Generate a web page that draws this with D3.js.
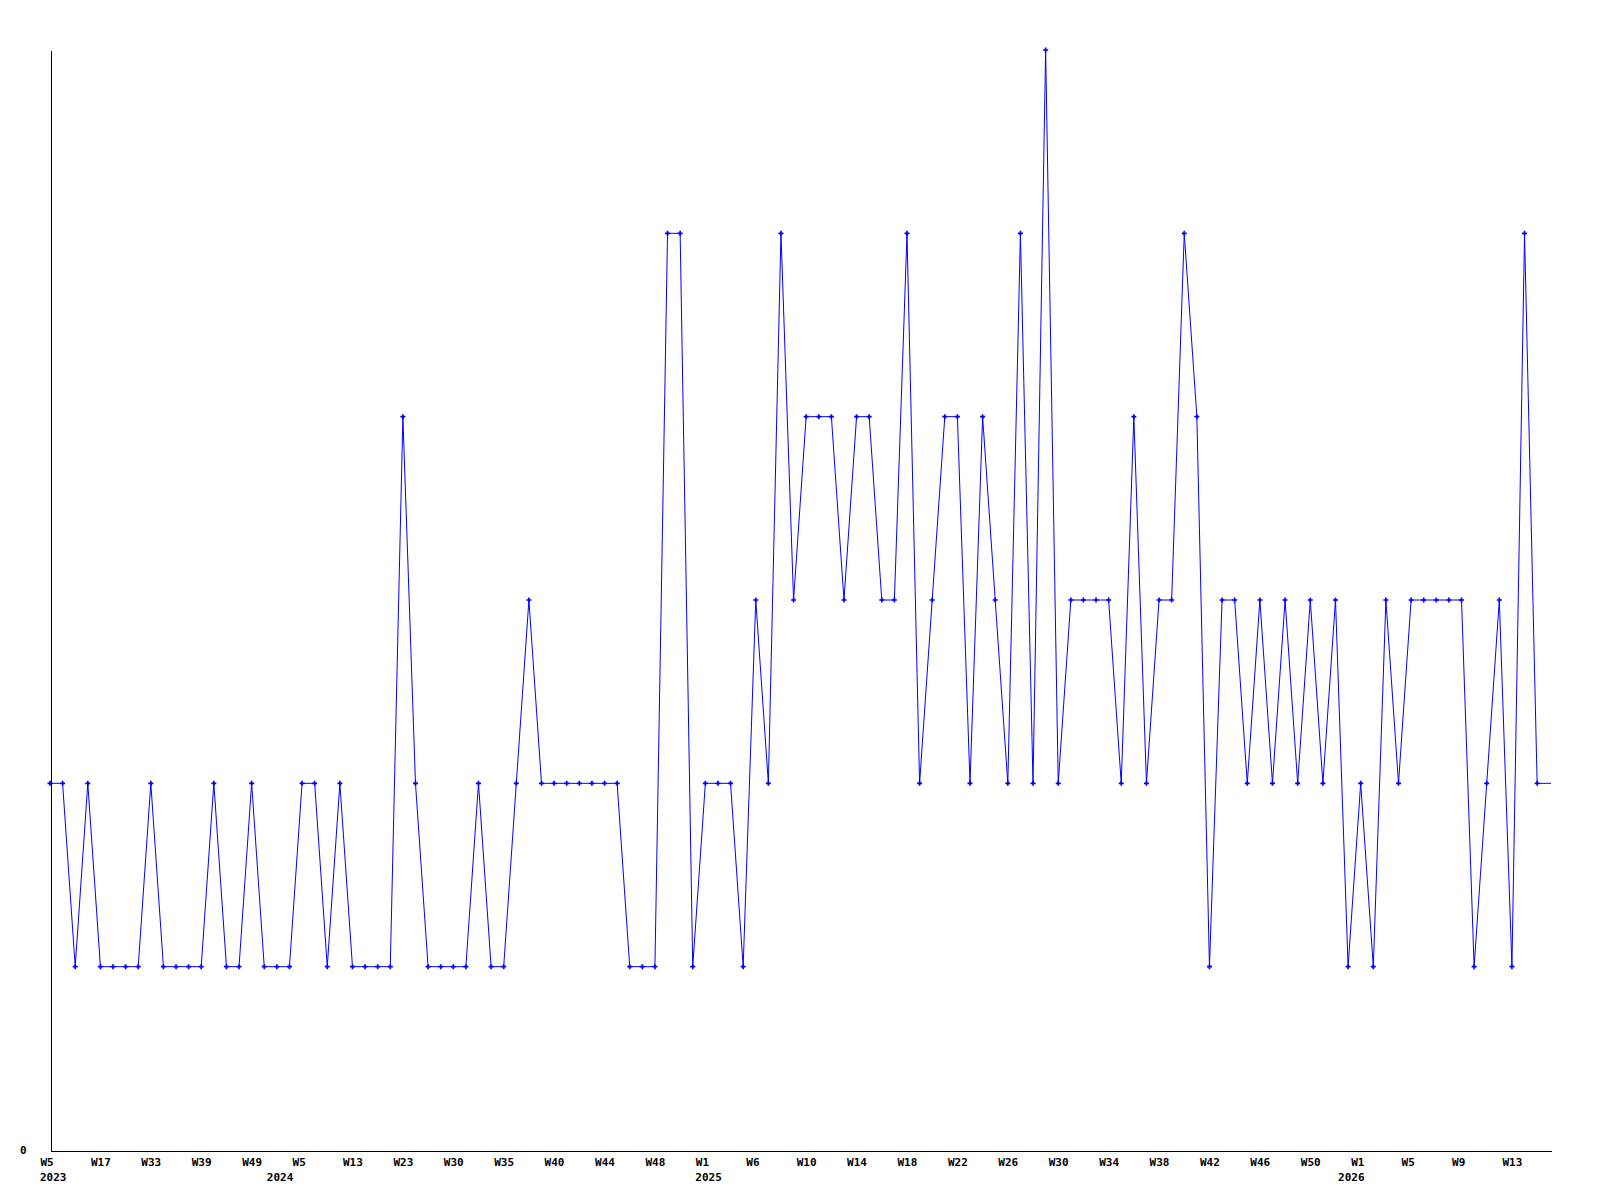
<!DOCTYPE html>
<html lang="en">
<head>
    <meta charset="UTF-8">
    <title>Weekly count</title>
    <script src="https://d3js.org/d3.v7.min.js"></script>
    <style>
        body { margin: 0; background: #fff; }
        .axis path, .axis line { stroke: #000; }
        .axis text, .year-label {
            fill: #000;
            font-family: "DejaVu Sans Mono", monospace;
            font-weight: bold;
            font-size: 11px;
        }
        .series { fill: none; stroke: #0000ff; stroke-width: 1; }
        .marker { fill: #0000ff; }
    </style>
</head>
<body>
    <div id="chart"></div>

    <script>
        // weekly values, one per point (left to right)
        const values = [
            2, 2, 1, 2, 1, 1, 1, 1, 2, 1,
            1, 1, 1, 2, 1, 1, 2, 1, 1, 1,
            2, 2, 1, 2, 1, 1, 1, 1, 4, 2,
            1, 1, 1, 1, 2, 1, 1, 2, 3, 2,
            2, 2, 2, 2, 2, 2, 1, 1, 1, 5,
            5, 1, 2, 2, 2, 1, 3, 2, 5, 3,
            4, 4, 4, 3, 4, 4, 3, 3, 5, 2,
            3, 4, 4, 2, 4, 3, 2, 5, 2, 6,
            2, 3, 3, 3, 3, 2, 4, 2, 3, 3,
            5, 4, 1, 3, 3, 2, 3, 2, 3, 2,
            3, 2, 3, 1, 2, 1, 3, 2, 3, 3,
            3, 3, 3, 1, 2, 3, 1, 5, 2
        ];

        // tick labels, one every 4 points
        const weekLabels = [
            "W5", "W17", "W33", "W39", "W49", "W5", "W13", "W23", "W30", "W35",
            "W40", "W44", "W48", "W1", "W6", "W10", "W14", "W18", "W22", "W26",
            "W30", "W34", "W38", "W42", "W46", "W50", "W1", "W5", "W9", "W13"
        ];
        const tickStep = 4;

        // year labels and the point where each year starts
        const years = ["2023", "2024", "2025", "2026"];
        const yearStarts = [0, 18, 52, 103];

        const yMax = 6;

        const svgW = 1600, svgH = 1200;
        const margin = {top: 50, left: 50, right: 49, bottom: 50};
        const plotBottom = svgH - margin.bottom;

        const svg = d3.select("#chart")
            .append("svg")
            .attr("width", svgW)
            .attr("height", svgH);

        // x runs a little past the last point, the line is carried to the edge
        const xEnd = values.length - 1 + 1.1;
        const x = d3.scaleLinear()
            .domain([0, xEnd])
            .range([margin.left, svgW - margin.right]);

        const y = d3.scaleLinear()
            .domain([0, yMax])
            .range([plotBottom, margin.top]);

        // x axis
        const xAxis = d3.axisBottom(x)
            .tickValues(weekLabels.map((d, i) => i * tickStep))
            .tickFormat((d, i) => weekLabels[i])
            .tickSize(0)
            .tickSizeOuter(0)
            .tickPadding(8);

        const gx = svg.append("g")
            .attr("class", "axis")
            .attr("transform", `translate(0,${plotBottom + 0.5})`)
            .call(xAxis);
        gx.select(".domain").attr("shape-rendering", "crispEdges");
        gx.selectAll("text")
            .attr("text-anchor", "start")
            .attr("dx", -10);

        // year labels under the weeks
        svg.selectAll(".year-label")
            .data(years)
            .enter()
            .append("text")
            .attr("class", "year-label")
            .attr("x", (d, i) => x(yearStarts[i]) - 10)
            .attr("y", 1181)
            .text(d => d);

        // y axis, only the zero is labelled
        const yAxis = d3.axisLeft(y)
            .tickValues([0])
            .tickFormat(d3.format("d"))
            .tickSize(0)
            .tickSizeOuter(0)
            .tickPadding(24);

        svg.append("g")
            .attr("class", "axis")
            .attr("transform", `translate(${margin.left + 0.5},0)`)
            .call(yAxis)
            .select(".domain")
            .attr("shape-rendering", "crispEdges");

        // the series
        const pts = values.map((v, i) => [i, v]);
        const linePts = pts.concat([[xEnd, values[values.length - 1]]]);

        const line = d3.line()
            .x(d => x(d[0]))
            .y(d => y(d[1]));

        svg.append("path")
            .datum(linePts)
            .attr("class", "series")
            .attr("d", line);

        svg.selectAll(".marker")
            .data(pts)
            .enter()
            .append("path")
            .attr("class", "marker")
            .attr("transform", d => `translate(${x(d[0])},${y(d[1])})`)
            .attr("d", d3.symbol().type(d3.symbolCross).size(14));
    </script>
</body>
</html>
